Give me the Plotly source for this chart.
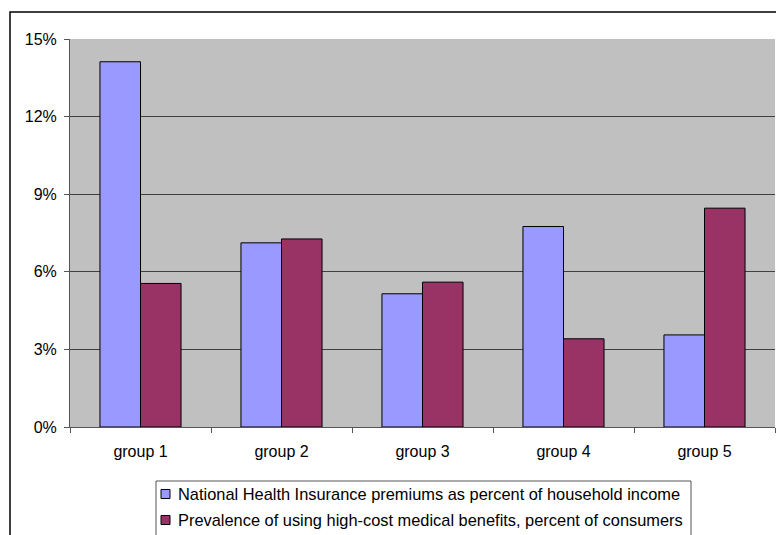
import plotly.graph_objects as go

# Income groups and the two measured series (percent)
groups = ["group 1", "group 2", "group 3", "group 4", "group 5"]
premium_share = [14.12, 7.12, 5.15, 7.75, 3.56]
high_cost_use = [5.55, 7.27, 5.60, 3.41, 8.46]
series_names = [
    "National Health Insurance premiums as percent of household income",
    "Prevalence of using high-cost medical benefits, percent of consumers",
]
series_colors = ["#9999FF", "#993366"]
y_ticks = [0, 3, 6, 9, 12, 15]
y_tick_text = [f"{v}%" for v in y_ticks]

W, H = 776, 535
L, R, T, B = 70, 1, 39, 108
FONT = "Arial, Liberation Sans, sans-serif"

fig = go.Figure()
for name, vals, col in zip(series_names, [premium_share, high_cost_use], series_colors):
    fig.add_trace(go.Bar(
        x=groups, y=vals, name=name, showlegend=False,
        marker=dict(color=col, line=dict(color="#000000", width=1)),
    ))

pw = W - L - R
ph = H - T - B

def px_x(p):
    return (p - L) / pw

def px_y(p):
    return (H - B - p) / ph

# frame around the whole chart
shapes = [
    dict(type="rect", xref="paper", yref="paper",
         x0=px_x(10), x1=px_x(820), y0=px_y(600), y1=px_y(12),
         line=dict(color="#000000", width=1.5), fillcolor="rgba(0,0,0,0)",
         layer="below"),
    # legend box
    dict(type="rect", xref="paper", yref="paper",
         x0=px_x(156), x1=px_x(691), y0=px_y(560), y1=px_y(481),
         line=dict(color="#555555", width=1), fillcolor="#FFFFFF",
         layer="below"),
]
annotations = []
row_y = [494, 520]
for name, col, ry in zip(series_names, series_colors, row_y):
    shapes.append(dict(
        type="rect", xref="paper", yref="paper",
        x0=px_x(161), x1=px_x(170), y0=px_y(ry + 4.5), y1=px_y(ry - 4.5),
        line=dict(color="#000000", width=1), fillcolor=col,
    ))
    annotations.append(dict(
        xref="paper", yref="paper", x=px_x(176), y=px_y(ry),
        xanchor="left", yanchor="middle", showarrow=False,
        text=name, font=dict(family=FONT, size=16.4, color="#000000"),
    ))

fig.update_layout(
    width=W, height=H,
    margin=dict(l=L, r=R, t=T, b=B, pad=0),
    paper_bgcolor="#FFFFFF",
    plot_bgcolor="#C0C0C0",
    barmode="group",
    bargap=0.425,
    bargroupgap=0,
    font=dict(family=FONT, size=16, color="#000000"),
    showlegend=False,
    xaxis=dict(
        type="category", tickson="boundaries",
        ticks="outside", ticklen=5, tickcolor="#555555",
        showline=True, linecolor="#555555", linewidth=1,
        showgrid=False, ticklabelstandoff=10,
    ),
    yaxis=dict(
        range=[0, 15], tickvals=y_ticks, ticktext=y_tick_text,
        ticks="outside", ticklen=5, tickcolor="#555555",
        showline=True, linecolor="#555555", linewidth=1,
        showgrid=True, gridcolor="#404040", gridwidth=1,
        zeroline=False, ticklabelstandoff=4,
    ),
    shapes=shapes,
    annotations=annotations,
)

fig.write_html("out.html")
